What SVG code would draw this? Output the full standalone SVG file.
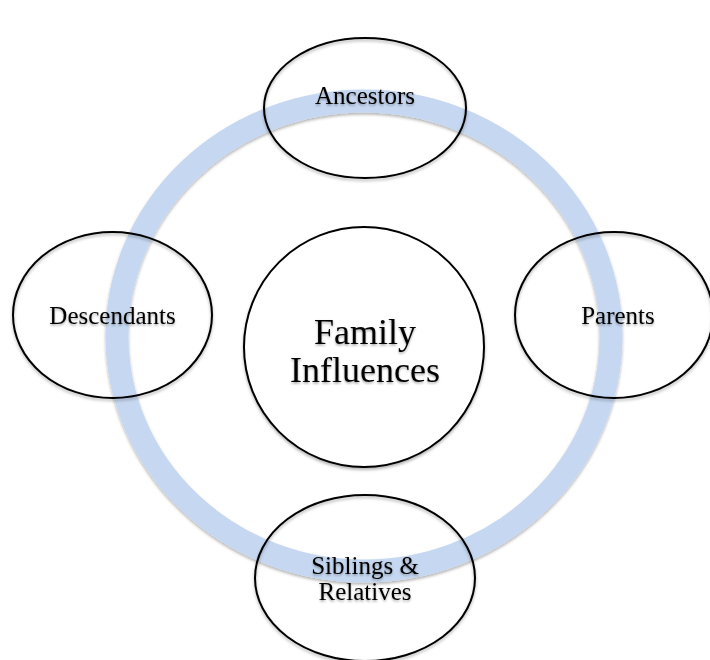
<svg xmlns="http://www.w3.org/2000/svg" width="710" height="660" viewBox="0 0 710 660">
  <defs>
    <filter id="shadow" x="-10%" y="-10%" width="120%" height="125%">
      <feDropShadow dx="0" dy="2" stdDeviation="1.5" flood-color="#000" flood-opacity="0.3"/>
    </filter>
    <filter id="tshadow" x="-10%" y="-20%" width="120%" height="150%">
      <feDropShadow dx="0" dy="1.5" stdDeviation="1.2" flood-color="#000" flood-opacity="0.35"/>
    </filter>
  </defs>
  <style>
    .node { fill: none; stroke: #000; stroke-width: 2; }
    .hub { fill: #fff; stroke: #000; stroke-width: 2; }
    .lbl { font-family: "Liberation Serif", "DejaVu Serif", serif; font-size: 25px; fill: #000; text-anchor: middle; }
    .big { font-size: 36px; }
    .ring { fill: none; stroke: #c6d8f1; stroke-width: 23; }
  </style>
  <rect width="710" height="660" fill="#fff"/>
  <g id="connectors">
    <ellipse class="ring" cx="364" cy="336" rx="247" ry="235" filter="url(#shadow)"/>
  </g>
  <g id="family-influences">
    <circle class="hub" cx="364" cy="347" r="120" filter="url(#shadow)"/>
    <text class="lbl big" x="365" y="344" filter="url(#tshadow)">Family</text>
    <text class="lbl big" x="365" y="382" filter="url(#tshadow)">Influences</text>
  </g>
  <g id="ancestors">
    <ellipse class="node" cx="365" cy="108" rx="101" ry="70" filter="url(#shadow)"/>
    <text class="lbl" x="365" y="104" filter="url(#tshadow)">Ancestors</text>
  </g>
  <g id="parents">
    <ellipse class="node" cx="614" cy="315" rx="99" ry="83" filter="url(#shadow)"/>
    <text class="lbl" x="618" y="324" filter="url(#tshadow)">Parents</text>
  </g>
  <g id="descendants">
    <ellipse class="node" cx="112.5" cy="315" rx="99.5" ry="83" filter="url(#shadow)"/>
    <text class="lbl" x="112.5" y="324" filter="url(#tshadow)">Descendants</text>
  </g>
  <g id="siblings-relatives">
    <ellipse class="node" cx="365" cy="578" rx="110" ry="83" filter="url(#shadow)"/>
    <text class="lbl" x="365" y="574" filter="url(#tshadow)">Siblings &amp;</text>
    <text class="lbl" x="365" y="600" filter="url(#tshadow)">Relatives</text>
  </g>
</svg>
